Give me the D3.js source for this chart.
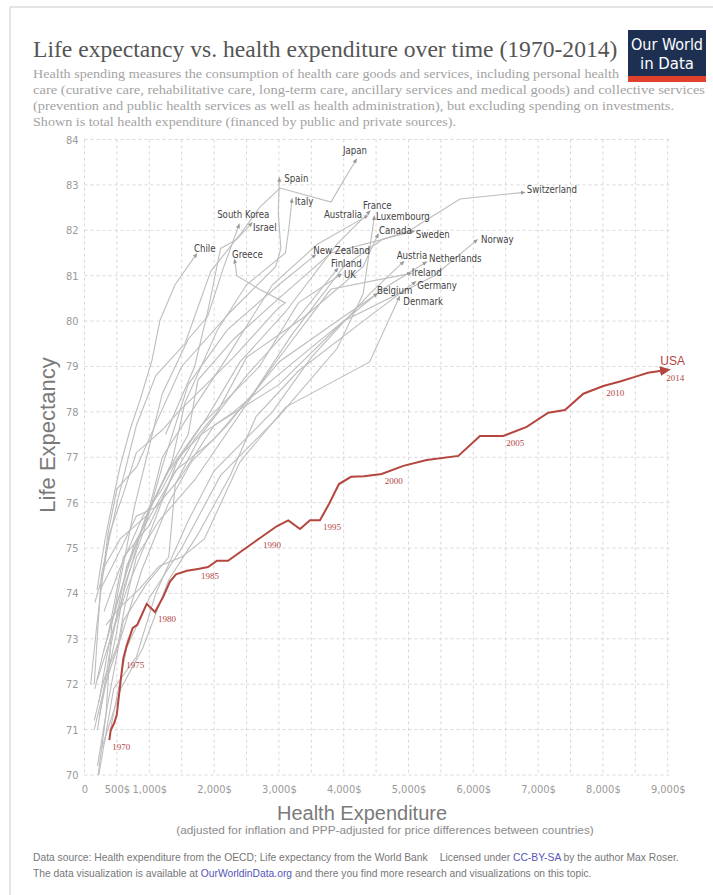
<!DOCTYPE html>
<html>
<head>
<meta charset="utf-8">
<title>Life expectancy vs. health expenditure over time (1970-2014)</title>
<script src="https://d3js.org/d3.v7.min.js"></script>
<style>
    body { margin: 0; background: #fff; }
    .grid line { stroke: #d8d8d8; stroke-dasharray: 3,3; }
    .tick text { fill: #9a9a9a; font-size: 11px; font-family: "Liberation Sans Narrow", "DejaVu Sans Condensed", sans-serif; }
    .domain { display: none; }
    .country-line { fill: none; stroke: #bdbdbd; stroke-width: 1.1; }
    .country-label { fill: #444; font-size: 9.6px; font-family: "DejaVu Sans Condensed", "DejaVu Sans", sans-serif; }
    .usa-line { fill: none; stroke: #b4463f; stroke-width: 2; }
    .usa-year { fill: #b4463f; font-size: 9px; font-family: "Liberation Serif", serif; }
</style>
</head>
<body>
<script>
// axis ticks
var xTicks = [0, 500, 1000, 2000, 3000, 4000, 5000, 6000, 7000, 8000, 9000];
var xTickLabels = ["0", "500$", "1,000$", "2,000$", "3,000$", "4,000$", "5,000$", "6,000$", "7,000$", "8,000$", "9,000$"];
var yTicks = [70, 71, 72, 73, 74, 75, 76, 77, 78, 79, 80, 81, 82, 83, 84];

// USA, one value per year 1970-2014
var usaYears = d3.range(1970, 2015);
var usaSpend = [383, 404, 460, 497, 548, 599, 651, 744, 815, 960,
                1088, 1216, 1319, 1412, 1582, 1752, 1906, 2045, 2215, 2431,
                2708, 2966, 3145, 3326, 3480, 3634, 3773, 3927, 4113, 4313,
                4586, 4920, 5281, 5769, 6103, 6463, 6824, 7157, 7415, 7698,
                8006, 8264, 8495, 8696, 8932];
var usaLife = [70.77, 70.98, 71.15, 71.32, 71.95, 72.57, 72.85, 73.24, 73.31, 73.77,
               73.59, 73.93, 74.26, 74.42, 74.50, 74.54, 74.58, 74.72, 74.72, 74.94,
               75.22, 75.48, 75.61, 75.42, 75.61, 75.61, 75.97, 76.41, 76.57, 76.58,
               76.63, 76.81, 76.94, 77.03, 77.47, 77.47, 77.67, 77.98, 78.04, 78.40,
               78.57, 78.67, 78.77, 78.86, 78.91];
var usaLabelYears = [1970, 1975, 1980, 1985, 1990, 1995, 2000, 2005, 2010, 2014];

// other countries: [health expenditure $, life expectancy]
var japan = [[150,72.0],[260,74.4],[520,76.1],[800,77.7],[1100,78.8],[1550,79.5],[1950,81.1],[2450,82.0],[2700,82.5],[3017,82.93],[3804,82.62],[4000,83.1],[4174,83.51]];
var spain = [[95,72.0],[190,73.3],[360,75.3],[500,76.3],[810,76.8],[1150,77.9],[1500,79.0],[2250,80.2],[2950,81.2],[3030,81.6],[2990,82.4],[3006,83.09]];
var italy = [[220,71.6],[380,72.9],[600,74.0],[900,75.5],[1350,76.9],[1550,78.2],[2050,79.8],[2500,80.8],[3100,81.5],[3150,82.0],[3198,82.63]];
var southKorea = [[210,70.0],[330,71.3],[420,73.3],[770,75.9],[1200,78.4],[1600,79.6],[1900,80.1],[2150,81.2],[2373,82.07]];
var israel = [[1250,77.5],[1700,79.0],[1900,80.2],[2100,81.6],[2350,81.8],[2554,82.12]];
var chile = [[193,74.08],[316,75.18],[440,76.06],[548,76.79],[702,77.6],[857,78.26],[1042,79.14],[1165,80.02],[1397,80.8],[1705,81.43]];
var greece = [[160,73.8],[300,74.5],[380,75.3],[600,76.2],[800,77.1],[1200,77.6],[1450,78.0],[2300,79.2],[3000,80.3],[3100,80.4],[2700,80.7],[2350,81.0],[2323,81.29]];
var australia = [[200,71.0],[400,72.8],[650,74.6],[950,75.6],[1200,77.0],[1600,77.9],[2200,79.2],[2900,80.8],[3600,81.7],[4330,82.29]];
var france = [[200,72.1],[400,73.0],[680,74.2],[1000,75.3],[1430,76.9],[1900,77.9],[2400,79.1],[3100,80.2],[3900,81.7],[4375,82.38]];
var luxembourg = [[400,71.0],[650,72.8],[1000,73.9],[1500,75.0],[2100,76.6],[3000,77.9],[3900,79.4],[4300,80.6],[4468,82.25]];
var canada = [[290,72.7],[470,73.6],[770,75.1],[1250,76.3],[1700,77.4],[2050,78.0],[2500,79.2],[3400,80.1],[4300,81.2],[4514,81.86]];
var sweden = [[310,74.6],[550,75.2],[950,75.7],[1250,76.6],[1600,77.5],[1750,78.7],[2300,79.6],[3000,80.5],[3800,81.5],[5049,81.97]];
var switzerland = [[350,73.0],[600,74.8],[1000,75.5],[1400,76.7],[2000,77.4],[2600,78.4],[3200,79.7],[4000,81.2],[4600,81.8],[5023,82.0],[5795,82.69],[6747,82.83]];
var norway = [[250,74.1],[500,74.8],[800,75.7],[1100,75.9],[1450,76.5],[2000,77.7],[3000,78.6],[4000,80.0],[5400,81.0],[6026,81.75]];
var newZealand = [[230,71.3],[370,72.3],[490,73.1],[620,74.2],[920,75.4],[1200,76.8],[1600,78.6],[2200,79.8],[3000,80.8],[3531,81.42]];
var finland = [[200,70.2],[350,71.5],[600,73.4],[950,74.2],[1300,74.8],[1400,76.4],[1800,77.5],[2500,78.8],[3200,79.9],[3881,81.11]];
var uk = [[160,71.9],[290,72.7],[480,73.7],[680,74.6],[950,75.7],[1300,76.7],[1800,77.7],[2700,79.0],[3300,80.4],[3927,81.0]];
var austria = [[220,70.0],[450,71.9],[800,72.6],[1100,74.0],[1600,75.6],[2000,76.7],[2900,78.0],[3500,79.2],[4400,80.6],[4895,81.27]];
var netherlands = [[300,73.6],[530,74.5],[900,75.7],[1200,76.3],[1450,77.0],[1800,77.5],[2300,78.0],[3400,79.3],[4600,80.7],[5239,81.27]];
var ireland = [[150,71.2],[300,72.1],[520,72.9],[620,73.7],[800,74.8],[1150,75.6],[1700,76.5],[2900,79.0],[3800,80.7],[4997,81.04]];
var germany = [[270,70.6],[560,71.9],[900,72.8],[1300,74.3],[1750,75.3],[2250,76.6],[2650,77.9],[3300,78.9],[4300,80.0],[5074,80.83]];
var belgium = [[150,71.0],[320,72.0],[600,73.2],[880,74.5],[1300,76.0],[1650,76.9],[2200,77.7],[3000,79.1],[3900,80.0],[4483,80.57]];
var denmark = [[330,73.3],[550,73.7],[850,74.1],[1150,74.6],[1500,74.8],[1850,75.2],[2400,76.9],[3100,78.1],[4400,79.1],[4843,80.48]];

var countryNames = ["Japan", "Spain", "Italy", "South Korea", "Israel", "Chile", "Greece", "Australia",
    "France", "Luxembourg", "Canada", "Sweden", "Switzerland", "Norway", "New Zealand", "Finland",
    "UK", "Austria", "Netherlands", "Ireland", "Germany", "Belgium", "Denmark"];
var countrySeries = [japan, spain, italy, southKorea, israel, chile, greece, australia,
    france, luxembourg, canada, sweden, switzerland, norway, newZealand, finland,
    uk, austria, netherlands, ireland, germany, belgium, denmark];

// where each name sits relative to the arrow tip: dx, dy, anchor
var labelPlace = {
    "Japan": [0, -11, "middle"], "Spain": [5, -2, "start"], "Italy": [3, 0, "start"],
    "South Korea": [5, -12, "middle"], "Israel": [3, 2.5, "start"], "Chile": [-1, -8, "start"],
    "Greece": [-3, -8, "start"], "Australia": [-3, -2, "end"], "France": [-5, -7, "start"],
    "Luxembourg": [2, -2, "start"], "Canada": [2, -6, "start"], "Sweden": [4, 2.5, "start"],
    "Switzerland": [5, -2.5, "start"], "Norway": [6, -2, "start"], "New Zealand": [0, -6, "start"],
    "Finland": [-5, -7, "start"], "UK": [5, -1.5, "start"], "Austria": [-5, -8, "start"],
    "Netherlands": [5, -5, "start"], "Ireland": [3.5, -1, "start"], "Germany": [4, 2, "start"],
    "Belgium": [2, -5, "start"], "Denmark": [5, 2, "start"]
};

var width = 713, height = 895;
var svg = d3.select("body").append("svg")
    .attr("width", width)
    .attr("height", height);

// frame
svg.append("line").attr("x1", 10).attr("x2", width).attr("y1", 7).attr("y2", 7)
    .attr("stroke", "#dcdcdc").attr("stroke-width", 1.5);
svg.append("line").attr("x1", 10).attr("x2", 10).attr("y1", 7).attr("y2", height)
    .attr("stroke", "#dcdcdc").attr("stroke-width", 1.5);

// title and description
svg.append("text")
    .attr("x", 33).attr("y", 57)
    .attr("font-family", "Liberation Serif, serif")
    .attr("font-size", 23.6)
    .attr("fill", "#555")
    .text("Life expectancy vs. health expenditure over time (1970-2014)");

var descLines = [
    "Health spending measures the consumption of health care goods and services, including personal health",
    "care (curative care, rehabilitative care, long-term care, ancillary services and medical goods) and collective services",
    "(prevention and public health services as well as health administration), but excluding spending on investments.",
    "Shown is total health expenditure (financed by public and private sources)."
];
var descWidths = [586, 672, 641, 423];
svg.append("g").selectAll("text")
    .data(descLines)
    .enter().append("text")
    .attr("x", 33)
    .attr("y", (d, i) => 78 + i * 16)
    .attr("font-family", "Liberation Serif, serif")
    .attr("font-size", 12.4)
    .attr("fill", "#a3a3a3")
    .attr("textLength", (d, i) => descWidths[i])
    .attr("lengthAdjust", "spacingAndGlyphs")
    .text(d => d);

// logo
var logo = svg.append("g").attr("transform", "translate(628,30)");
logo.append("rect").attr("width", 78).attr("height", 52).attr("fill", "#1e3052");
logo.append("rect").attr("y", 46).attr("width", 78).attr("height", 6).attr("fill", "#e0412c");
logo.append("text").attr("x", 39).attr("y", 20).attr("text-anchor", "middle")
    .attr("font-family", "Liberation Sans Narrow, DejaVu Sans Condensed, sans-serif")
    .attr("font-size", 16).attr("fill", "#fff")
    .attr("textLength", 72).attr("lengthAdjust", "spacingAndGlyphs")
    .text("Our World");
logo.append("text").attr("x", 39).attr("y", 39).attr("text-anchor", "middle")
    .attr("font-family", "Liberation Sans Narrow, DejaVu Sans Condensed, sans-serif")
    .attr("font-size", 16).attr("fill", "#fff")
    .attr("textLength", 54).attr("lengthAdjust", "spacingAndGlyphs")
    .text("in Data");

// scales
var x = d3.scaleLinear().domain([0, 9000]).range([84.5, 667.7]);
var y = d3.scaleLinear().domain([70, 84]).range([775, 139.5]);

// grid
var grid = svg.append("g").attr("class", "grid");
grid.selectAll(".v")
    .data(d3.range(0, 9001, 500))
    .enter().append("line")
    .attr("x1", d => x(d)).attr("x2", d => x(d))
    .attr("y1", y(84)).attr("y2", y(70));
grid.selectAll(".h")
    .data(yTicks)
    .enter().append("line")
    .attr("x1", x(0)).attr("x2", x(9000) + 4)
    .attr("y1", d => y(d)).attr("y2", d => y(d));

// axes (labels only)
svg.append("g")
    .attr("transform", "translate(0," + y(70) + ")")
    .call(d3.axisBottom(x).tickValues(xTicks).tickSize(0).tickPadding(10)
        .tickFormat((d, i) => xTickLabels[i]));
svg.append("g")
    .attr("transform", "translate(" + (x(0) - 3) + ",0)")
    .call(d3.axisLeft(y).tickValues(yTicks).tickSize(0).tickPadding(3)
        .tickFormat(d3.format("d")));

svg.append("text")
    .attr("transform", "translate(55,435) rotate(-90)")
    .attr("text-anchor", "middle")
    .attr("font-family", "Liberation Sans, sans-serif")
    .attr("font-size", 22)
    .attr("fill", "#7a7a7a")
    .text("Life Expectancy");
svg.append("text")
    .attr("x", 362).attr("y", 820)
    .attr("text-anchor", "middle")
    .attr("font-family", "Liberation Sans, sans-serif")
    .attr("font-size", 20)
    .attr("fill", "#7a7a7a")
    .text("Health Expenditure");
svg.append("text")
    .attr("x", 385).attr("y", 834)
    .attr("text-anchor", "middle")
    .attr("font-family", "Liberation Sans Narrow, Liberation Sans, sans-serif")
    .attr("font-size", 11.8)
    .attr("fill", "#8a8a8a")
    .text("(adjusted for inflation and PPP-adjusted for price differences between countries)");

// arrow markers
var defs = svg.append("defs");
defs.append("marker")
    .attr("id", "arrowGray")
    .attr("viewBox", "0 -5 10 10")
    .attr("refX", 2).attr("refY", 0)
    .attr("markerUnits", "userSpaceOnUse")
    .attr("markerWidth", 5).attr("markerHeight", 5)
    .attr("orient", "auto")
    .append("path").attr("d", "M0,-4L10,0L0,4Z").attr("fill", "#999");
defs.append("marker")
    .attr("id", "arrowRed")
    .attr("viewBox", "0 -5 10 10")
    .attr("refX", 3).attr("refY", 0)
    .attr("markerUnits", "userSpaceOnUse")
    .attr("markerWidth", 11).attr("markerHeight", 11)
    .attr("orient", "auto")
    .append("path").attr("d", "M0,-4.5L10,0L0,4.5Z").attr("fill", "#b4463f");

var line = d3.line().x(d => x(d[0])).y(d => y(d[1]));

// other countries
var countries = svg.append("g");
countries.selectAll("path")
    .data(countrySeries)
    .enter().append("path")
    .attr("class", "country-line")
    .attr("marker-end", "url(#arrowGray)")
    .attr("d", line);

countries.selectAll("text")
    .data(countryNames)
    .enter().append("text")
    .attr("class", "country-label")
    .attr("x", (d, i) => x(countrySeries[i][countrySeries[i].length - 1][0]) + labelPlace[d][0])
    .attr("y", (d, i) => y(countrySeries[i][countrySeries[i].length - 1][1]) + labelPlace[d][1])
    .attr("dy", "0.35em")
    .attr("text-anchor", d => labelPlace[d][2])
    .text(d => d);

// USA
var usa = usaYears.map((yr, i) => [usaSpend[i], usaLife[i], yr]);
svg.append("path")
    .datum(usa)
    .attr("class", "usa-line")
    .attr("marker-end", "url(#arrowRed)")
    .attr("d", line);

svg.append("g").selectAll("text")
    .data(usa.filter(d => usaLabelYears.indexOf(d[2]) >= 0))
    .enter().append("text")
    .attr("class", "usa-year")
    .attr("x", d => x(d[0]) + 3)
    .attr("y", d => y(d[1]) + 10)
    .text(d => d[2]);

var usaLast = usa[usa.length - 1];
svg.append("text")
    .attr("x", x(usaLast[0]) - 3)
    .attr("y", y(usaLast[1]) - 6)
    .attr("font-family", "Liberation Sans, sans-serif")
    .attr("font-size", 12)
    .attr("fill", "#b4463f")
    .text("USA");

// footer
var foot = svg.append("g")
    .attr("font-family", "Liberation Sans Narrow, Liberation Sans, sans-serif")
    .attr("font-size", 10.3)
    .attr("fill", "#777");
var f1 = foot.append("text").attr("x", 33).attr("y", 861);
f1.append("tspan").text("Data source: Health expenditure from the OECD; Life expectancy from the World Bank");
f1.append("tspan").attr("dx", 12).text("Licensed under ");
f1.append("tspan").attr("fill", "#5656b8").text("CC-BY-SA");
f1.append("tspan").text(" by the author Max Roser.");
var f2 = foot.append("text").attr("x", 33).attr("y", 877);
f2.append("tspan").text("The data visualization is available at ");
f2.append("tspan").attr("fill", "#5656b8").text("OurWorldinData.org");
f2.append("tspan").text(" and there you find more research and visualizations on this topic.");
</script>
</body>
</html>
